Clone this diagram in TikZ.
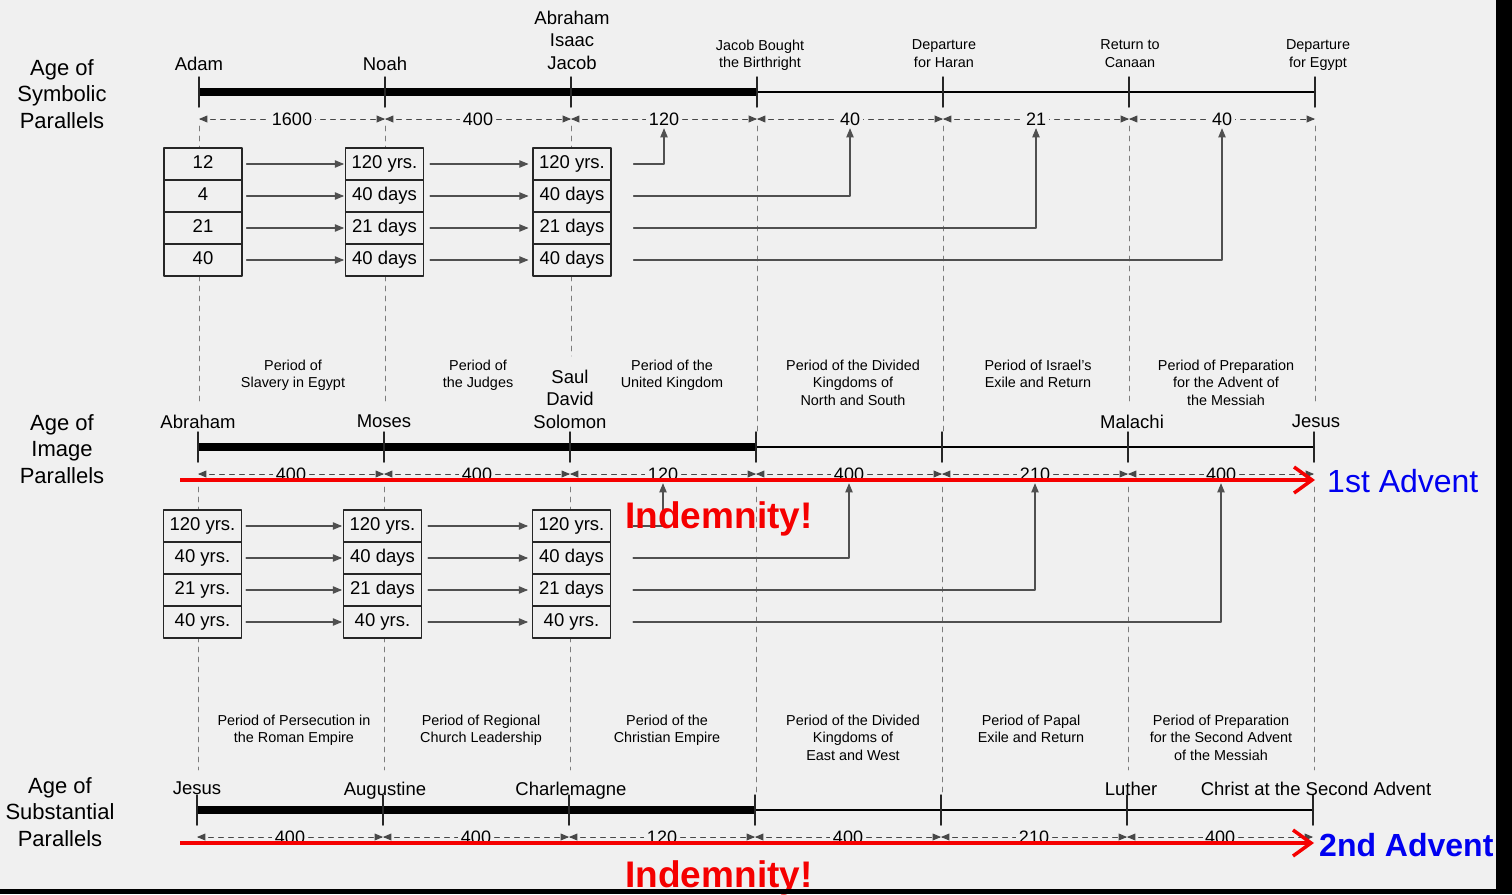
\documentclass[tikz,border=0pt]{standalone}
\usepackage{fontspec}
\setmainfont{Liberation Sans}
\usetikzlibrary{arrows}
\usetikzlibrary{arrows.meta}
\definecolor{paper}{HTML}{F0F0F0}
\definecolor{guidegray}{HTML}{7C7C7C}
\definecolor{feedgray}{HTML}{505050}
\definecolor{advblue}{HTML}{0000F0}
\definecolor{indred}{HTML}{F50000}

\tikzset{
  age/.style={anchor=north,inner sep=0pt,align=center,font=\fontsize{22}{26.5}\selectfont},
  who/.style={anchor=north,inner sep=0pt,align=center,font=\fontsize{18.5}{22.5}\selectfont},
  era/.style={anchor=north,inner sep=0pt,align=center,font=\fontsize{14.4}{17.3}\selectfont},
  cell/.style={draw=black!85,line width=1.1pt,fill=paper,minimum width=78pt,minimum height=32pt,
    inner sep=0pt,text height=13.5pt,text depth=4pt,font=\fontsize{18.5}{22}\selectfont},
  num/.style={fill=paper,text=black,inner sep=2.5pt,font=\fontsize{18}{20}\selectfont},
  dimrow/.style={<->,black!72,line width=0.9pt,dash pattern=on 5pt off 5pt},
  guide/.style={guidegray,line width=0.9pt,dash pattern=on 5pt off 5pt},
  feed/.style={->,feedgray,line width=1.1pt},
  tickmark/.style={black!85,line width=1.5pt},
  redline/.style={indred,line width=3.5pt,line cap=butt,
    -{Straight Barb[length=18pt,width=26pt,line width=3.5pt]}},
}

\begin{document}
\begin{tikzpicture}[line cap=round,line join=round,>=triangle 45,x=1pt,y=-1pt]
\fill[paper] (0,0) rectangle (1512,894);
\useasboundingbox (0,0) rectangle (1512,894);

% points on the three time axes
\foreach \i in {0,...,6} {
  \coordinate (a\i) at ({199+186*\i},92);
  \coordinate (da\i) at ({199+186*\i},119);
  \coordinate (b\i) at ({198+186*\i},447);
  \coordinate (db\i) at ({198+186*\i},474);
  \coordinate (c\i) at ({197+186*\i},810);
  \coordinate (dc\i) at ({197+186*\i},837);
}

% dashed guides
\foreach \i/\e in {0/402,1/402,2/356,3/432,4/432,5/402,6/402}
  \draw[guide] ({199+186*\i},126) -- ({199+186*\i},\e);
\foreach \i/\e in {0/770,1/770,2/770,3/795,4/795,5/770,6/770}
  \draw[guide] ({198+186*\i},487) -- ({198+186*\i},\e);

% axes
\draw[line width=8.5pt,line cap=butt] (a0) -- (a3);
\draw[line width=2.2pt] (a3) -- (a6);
\draw[line width=8.5pt,line cap=butt] (b0) -- (b3);
\draw[line width=2.2pt] (b3) -- (b6);
\draw[line width=8.5pt,line cap=butt] (c0) -- (c3);
\draw[line width=2.2pt] (c3) -- (c6);
\foreach \i in {0,...,6} {
  \draw[tickmark] (a\i) ++(0,-15) -- ++(0,30);
  \draw[tickmark] (b\i) ++(0,-15) -- ++(0,30);
  \draw[tickmark] (c\i) ++(0,-15) -- ++(0,30);
}

% spans in years
\foreach \i/\v in {0/1600,1/400,2/120,3/40,4/21,5/40} {
  \pgfmathtruncatemacro\j{\i+1}
  \draw[dimrow] (da\i) -- node[num] (na\i) {\v} (da\j);
}
\foreach \i/\v in {0/400,1/400,2/120,3/400,4/210,5/400} {
  \pgfmathtruncatemacro\j{\i+1}
  \draw[dimrow] (db\i) -- node[num] (nb\i) {\v} (db\j);
}
\foreach \i/\v in {0/400,1/400,2/120,3/400,4/210,5/400} {
  \pgfmathtruncatemacro\j{\i+1}
  \draw[dimrow] (dc\i) -- node[num] (nc\i) {\v} (dc\j);
}

% number boxes
\foreach \t [count=\r] in {12,4,21,40}
  \node[cell] (sa\r) at (203,{132+32*\r}) {\t};
\foreach \t [count=\r] in {120 yrs.,40 days,21 days,40 days}
  \node[cell] (sb\r) at (384.5,{132+32*\r}) {\t};
\foreach \t [count=\r] in {120 yrs.,40 days,21 days,40 days}
  \node[cell] (sc\r) at (572,{132+32*\r}) {\t};
\foreach \t [count=\r] in {120 yrs.,40 yrs.,21 yrs.,40 yrs.}
  \node[cell] (ia\r) at (202.5,{494+32*\r}) {\t};
\foreach \t [count=\r] in {120 yrs.,40 days,21 days,40 yrs.}
  \node[cell] (ib\r) at (382.5,{494+32*\r}) {\t};
\foreach \t [count=\r] in {120 yrs.,40 days,21 days,40 yrs.}
  \node[cell] (ic\r) at (571.5,{494+32*\r}) {\t};

\foreach \r in {1,...,4} {
  \draw[feed,shorten <=4pt,shorten >=1pt] (sa\r) -- (sb\r);
  \draw[feed,shorten <=6pt,shorten >=4pt] (sb\r) -- (sc\r);
  \draw[feed,shorten <=4pt,shorten >=1pt] (ia\r) -- (ib\r);
  \draw[feed,shorten <=6pt,shorten >=4pt] (ib\r) -- (ic\r);
}
\draw[feed,shorten <=22pt] (sc1) -| (na2);
\draw[feed,shorten <=22pt] (sc2) -| (na3);
\draw[feed,shorten <=22pt] (sc3) -| (na4);
\draw[feed,shorten <=22pt] (sc4) -| (na5);
\draw[feed,shorten <=22pt] (ic1) -| (nb2);
\draw[feed,shorten <=22pt] (ic2) -| (nb3);
\draw[feed,shorten <=22pt] (ic3) -| (nb4);
\draw[feed,shorten <=22pt] (ic4) -| (nb5);

% symbolic parallels
\node[age] (symb) at (62,59) {Age of\\Symbolic\\Parallels};
\node[who] (adam) at (199,56.5) {Adam};
\node[who] (noah) at (385,56.5) {Noah};
\node[who] (patr) at (572,10.5) {Abraham\\Isaac\\Jacob};
\node[era] (birth) at (760,39.8) {Jacob Bought\\the Birthright};
\node[era] (haran) at (944,39.8) {Departure\\for Haran};
\node[era] (canaan) at (1130,39.8) {Return to\\Canaan};
\node[era] (egypt) at (1318,39.8) {Departure\\for Egypt};

% image parallels
\node[age] (image) at (62,414) {Age of\\Image\\Parallels};
\node[who] (abrm) at (198,414.5) {Abraham};
\node[who] (moses) at (384,414.5) {Moses};
\node[who] (kings) at (570,369.5) {Saul\\David\\Solomon};
\node[who] (malachi) at (1132,414.5) {Malachi};
\node[who] (jesusa) at (1316,414.5) {Jesus};
\node[era] (slavery) at (293,360) {Period of\\Slavery in Egypt};
\node[era] (judges) at (478,360) {Period of\\the Judges};
\node[era] (united) at (672,360) {Period of the\\United Kingdom};
\node[era] (divns) at (853,360) {Period of the Divided\\Kingdoms of\\North and South};
\node[era] (exile) at (1038,360) {Period of Israel's\\Exile and Return};
\node[era] (prepa) at (1226,360) {Period of Preparation\\for the Advent of\\the Messiah};

% substantial parallels
\node[age] (subst) at (60,777) {Age of\\Substantial\\Parallels};
\node[who] (jesusb) at (197,781.5) {Jesus};
\node[who] (aug) at (385,781.5) {Augustine};
\node[who] (charl) at (571,781.5) {Charlemagne};
\node[who] (luther) at (1131,781.5) {Luther};
\node[who] (christ) at (1316,781.5) {Christ at the Second Advent};
\node[era] (persec) at (294,715) {Period of Persecution in\\the Roman Empire};
\node[era] (region) at (481,715) {Period of Regional\\Church Leadership};
\node[era] (chemp) at (667,715) {Period of the\\Christian Empire};
\node[era] (divew) at (853,715) {Period of the Divided\\Kingdoms of\\East and West};
\node[era] (papal) at (1031,715) {Period of Papal\\Exile and Return};
\node[era] (prepb) at (1221,715) {Period of Preparation\\for the Second Advent\\of the Messiah};

% advents
\node[anchor=west,inner sep=0pt,text=advblue,font=\fontsize{32}{36}\selectfont] (adv1) at (1327,481) {1st Advent};
\node[anchor=west,inner sep=0pt,text=advblue,font=\bfseries\fontsize{32}{36}\selectfont] (adv2) at (1319,845) {2nd Advent};
\coordinate (ra) at (180,480);
\coordinate (rb) at (180,843);
\draw[redline,shorten >=12pt] (ra) -- (ra -| adv1.west);
\draw[redline,shorten >=5pt] (rb) -- (rb -| adv2.west);
\node[anchor=base,inner sep=0pt,text=indred,font=\bfseries\fontsize{37}{40}\selectfont] (inda) at (719,528) {Indemnity!};
\node[anchor=base,inner sep=0pt,text=indred,font=\bfseries\fontsize{37}{40}\selectfont] (indb) at (719,887) {Indemnity!};

\fill[black] (1496,0) rectangle (1512,894);
\fill[black] (0,889) rectangle (1512,894);
\end{tikzpicture}
\end{document}
